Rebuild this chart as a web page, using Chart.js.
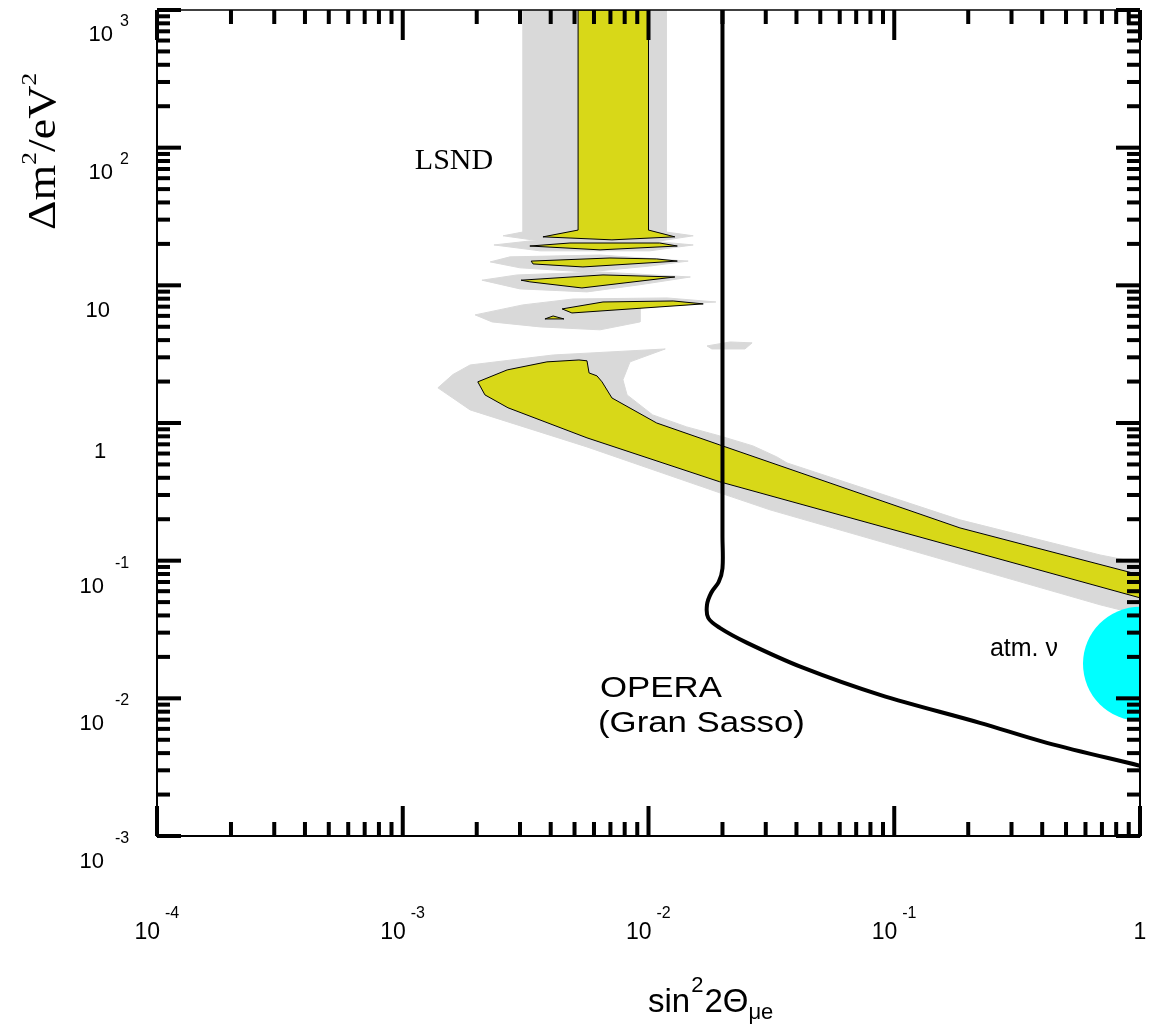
<!DOCTYPE html>
<html lang="en">
<head>
<meta charset="UTF-8">
<title>LSND / OPERA sensitivity</title>
<script src="https://cdn.jsdelivr.net/npm/chart.js"></script>
<style>
    body { margin: 0; background: #ffffff; }
    .chart-box { width: 1155px; height: 1028px; position: relative; }
</style>
</head>
<body>
<div class="chart-box"><canvas id="oscChart"></canvas></div>
<script>
// decades on the two log axes
const xDecades = [-4, -3, -2, -1, 0];
const yDecades = [-3, -2, -1, 0, 1, 2, 3];

// LSND outer (grey) allowed region, [sin^2 2theta, dm^2 / eV^2]
const graySpike = [[0.00308, 1000], [0.0118, 1000], [0.0118, 24.4], [0.0152, 22.9], [0.0111, 21.0],
    [0.00362, 21.0], [0.00256, 22.9], [0.00308, 24.4]];
const grayBand2 = [[0.00235, 19.65], [0.00329, 21.0], [0.0101, 21.0], [0.0152, 19.65], [0.0101, 17.8], [0.00362, 17.8]];
const grayBand3 = [[0.00227, 14.8], [0.00273, 16.1], [0.00635, 16.6], [0.0145, 15.0], [0.0101, 13.8], [0.00562, 12.5], [0.0030, 13.4]];
const grayBand4 = [[0.0021, 10.9], [0.00292, 11.9], [0.00635, 12.5], [0.0148, 11.5], [0.00923, 10.1], [0.00562, 8.96], [0.0030, 9.42]];
const grayBand5 = [[0.00197, 6.10], [0.00308, 7.21], [0.00493, 7.96], [0.0119, 8.10], [0.0188, 7.57], [0.00923, 6.97],
    [0.00923, 5.42], [0.00635, 4.75], [0.00362, 4.99], [0.00231, 5.42]];
const graySliver = [[0.0173, 3.63], [0.0215, 3.88], [0.0264, 3.82], [0.0247, 3.45], [0.0181, 3.45]];
const grayMain = [[0.00139, 1.80], [0.00160, 2.25], [0.00188, 2.64], [0.00409, 3.12], [0.0117, 3.45], [0.00841, 2.78],
    [0.00787, 2.06], [0.00818, 1.60], [0.0104, 1.145], [0.0143, 0.937], [0.0195, 0.806], [0.0266, 0.682],
    [0.0333, 0.567], [0.0366, 0.513], [0.185, 0.198], [0.688, 0.110], [1, 0.0964], [1, 0.0404],
    [0.688, 0.0478], [0.0312, 0.234], [0.0195, 0.311], [0.00562, 0.67], [0.00188, 1.245]];

// LSND inner (yellow) allowed region
const yellowSpike = [[0.00517, 1000], [0.01, 1000], [0.01, 25.2], [0.0128, 22.5], [0.0071, 21.4], [0.00372, 22.5], [0.00517, 25.2]];
const yellowIsl2 = [[0.00329, 19.3], [0.00479, 20.3], [0.0111, 20.3], [0.0131, 19.3], [0.00635, 18.1]];
const yellowIsl3 = [[0.00333, 15.0], [0.00697, 15.8], [0.0108, 15.55], [0.0131, 15.0], [0.00541, 13.6], [0.00339, 14.3]];
const yellowIsl4 = [[0.00303, 10.9], [0.00653, 11.9], [0.0128, 11.5], [0.00536, 9.57], [0.00329, 10.6]];
const yellowIsl5 = [[0.00445, 6.74], [0.00653, 7.57], [0.0126, 7.70], [0.0167, 7.33], [0.00488, 6.30]];
const yellowIsl6 = [[0.00379, 5.70], [0.00409, 5.99], [0.00453, 5.70]];
const yellowMain = [[0.00202, 1.99], [0.00266, 2.43], [0.00386, 2.78], [0.00521, 2.87], [0.00562, 2.83], [0.00573, 2.31],
    [0.00617, 2.20], [0.00647, 1.99], [0.0071, 1.52], [0.0108, 1.00], [0.0195, 0.693], [0.185, 0.173],
    [1, 0.0788], [1, 0.0537], [0.0195, 0.374], [0.00562, 0.78], [0.00268, 1.29], [0.00216, 1.60]];

// OPERA sensitivity curve
const operaX = [0.02, 0.02, 0.02, 0.0193, 0.0180, 0.0173, 0.0175, 0.0195, 0.0252, 0.0425, 0.0875, 0.223, 0.418, 1];
const operaY = [1000, 0.15, 0.088, 0.0700, 0.0585, 0.0478, 0.0384, 0.0325, 0.0253, 0.0167, 0.0106, 0.00664, 0.00475, 0.00324];

// atmospheric neutrino region centre
const atmX = [1];
const atmY = [0.0178];

const GRAY = '#d9d9d9';
const YELLOW = '#d8d818';
const SANS = '"Liberation Sans", Arial, sans-serif';
const SERIF = '"Liberation Serif", "Times New Roman", serif';

function poly(points, color, edge, order) {
    const pts = points.map(p => ({x: p[0], y: p[1]}));
    pts.push({x: points[0][0], y: points[0][1]});
    return {
        data: pts,
        showLine: true,
        fill: 'shape',
        backgroundColor: color,
        borderColor: edge || color,
        borderWidth: 1,
        pointRadius: 0,
        tension: 0,
        order: order,
        clip: 0
    };
}

const datasets = [
    {
        data: operaX.map((v, i) => ({x: v, y: operaY[i]})),
        showLine: true,
        borderColor: '#000',
        borderWidth: 4,
        pointRadius: 0,
        tension: 0.35,
        fill: false,
        order: 1,
        clip: 0
    },
    {
        data: atmX.map((v, i) => ({x: v, y: atmY[i]})),
        pointRadius: 57,
        backgroundColor: '#00ffff',
        borderColor: '#00ffff',
        borderWidth: 0,
        order: 2,
        clip: 0
    }
];
[yellowSpike, yellowIsl2, yellowIsl3, yellowIsl4, yellowIsl5, yellowIsl6, yellowMain].forEach(p => {
    datasets.push(poly(p, YELLOW, '#000', 3));
});
[graySpike, grayBand2, grayBand3, grayBand4, grayBand5, graySliver, grayMain].forEach(p => {
    datasets.push(poly(p, GRAY, null, 4));
});

function txt(ctx, s, x, y, font, align, sx) {
    ctx.save();
    ctx.font = font;
    ctx.textAlign = align || 'left';
    ctx.textBaseline = 'alphabetic';
    ctx.translate(x, y);
    ctx.scale(sx || 1, 1);
    ctx.fillText(s, 0, 0);
    ctx.restore();
}

const framePlugin = {
    id: 'frame',
    afterDatasetsDraw(chart) {
        const {ctx, chartArea: a, scales: {x, y}} = chart;
        ctx.save();
        ctx.fillStyle = '#000';
        ctx.strokeStyle = '#000';

        // box
        ctx.lineWidth = 2;
        ctx.beginPath();
        ctx.moveTo(a.left, a.top);
        ctx.lineTo(a.left, a.bottom);
        ctx.lineTo(a.right, a.bottom);
        ctx.lineTo(a.right, a.top);
        ctx.stroke();
        ctx.lineWidth = 1.5;
        ctx.beginPath();
        ctx.moveTo(a.left, a.top);
        ctx.lineTo(a.right, a.top);
        ctx.stroke();

        // ticks pointing inwards, all four sides
        xDecades.forEach(d => {
            for (let m = 1; m <= 9; m++) {
                const v = m * Math.pow(10, d);
                if (v > 1.0001) break;
                const px = x.getPixelForValue(v);
                const len = m === 1 ? 30 : 14;
                ctx.fillRect(px - 2, a.bottom - len, 4, len);
                ctx.fillRect(px - 2, a.top, 4, len);
            }
        });
        yDecades.forEach(d => {
            for (let m = 1; m <= 9; m++) {
                const v = m * Math.pow(10, d);
                if (v > 1000.1) break;
                const py = y.getPixelForValue(v);
                const len = m === 1 ? 24 : 13;
                ctx.fillRect(a.left, py - 2, len, 4);
                ctx.fillRect(a.right - len, py - 2, len, 4);
            }
        });

        // x tick labels
        xDecades.forEach(d => {
            const px = x.getPixelForValue(Math.pow(10, d));
            if (d === 0) {
                txt(ctx, '1', px, a.bottom + 103, '23px ' + SANS, 'center');
            } else {
                txt(ctx, '10', px + 3, a.bottom + 103, '23px ' + SANS, 'right');
                txt(ctx, String(d), px + 8, a.bottom + 82, '16px ' + SANS, 'left');
            }
        });

        // y tick labels
        yDecades.forEach(d => {
            const py = y.getPixelForValue(Math.pow(10, d));
            if (d === 0) {
                txt(ctx, '1', a.left - 57, py + 35, '22px ' + SANS, 'center');
            } else if (d === 1) {
                txt(ctx, '10', a.left - 47, py + 32, '22px ' + SANS, 'right');
            } else if (d > 1) {
                txt(ctx, '10', a.left - 44, py + 31, '22px ' + SANS, 'right');
                txt(ctx, String(d), a.left - 37, py + 16, '16px ' + SANS, 'left');
            } else {
                txt(ctx, '10', a.left - 53, py + 32, '22px ' + SANS, 'right');
                txt(ctx, String(d), a.left - 42, py + 7, '16px ' + SANS, 'left');
            }
        });

        // region labels
        txt(ctx, 'LSND', x.getPixelForValue(0.00112), y.getPixelForValue(70), '30px ' + SERIF, 'left');
        txt(ctx, 'OPERA', x.getPixelForValue(0.00635), y.getPixelForValue(0.01025), '29px ' + SANS, 'left', 1.2);
        txt(ctx, '(Gran Sasso)', x.getPixelForValue(0.00623), y.getPixelForValue(0.00571), '29px ' + SANS, 'left', 1.2);
        txt(ctx, 'atm. \u03bd', x.getPixelForValue(0.245), y.getPixelForValue(0.0203), '25px ' + SANS, 'left');

        // x axis title: sin^2 2Theta_mu e
        let cx = 648;
        const base = 1012;
        txt(ctx, 'sin', cx, base, '33px ' + SANS);
        ctx.font = '33px ' + SANS;
        cx += ctx.measureText('sin').width + 1;
        txt(ctx, '2', cx, base - 20, '22px ' + SANS);
        ctx.font = '22px ' + SANS;
        cx += ctx.measureText('2').width + 1;
        txt(ctx, '2\u0398', cx, base, '33px ' + SANS);
        ctx.font = '33px ' + SANS;
        cx += ctx.measureText('2\u0398').width;
        txt(ctx, '\u03bce', cx, base + 7, '22px ' + SANS);

        // y axis title: dm^2 / eV^2, rotated
        ctx.save();
        ctx.translate(55, 230);
        ctx.rotate(-Math.PI / 2);
        ctx.scale(1.15, 1);
        ctx.textBaseline = 'alphabetic';
        let tx = 0;
        const parts = [['\u0394m', 40, 0], ['2', 22, -19], ['/eV', 40, 0], ['2', 22, -19]];
        parts.forEach(p => {
            ctx.font = p[1] + 'px ' + SERIF;
            ctx.fillText(p[0], tx, p[2]);
            tx += ctx.measureText(p[0]).width;
        });
        ctx.restore();

        ctx.restore();
    }
};

new Chart(document.getElementById('oscChart').getContext('2d'), {
    type: 'scatter',
    data: { datasets: datasets },
    options: {
        responsive: true,
        maintainAspectRatio: false,
        animation: false,
        events: [],
        layout: { autoPadding: false, padding: { left: 157, right: 15, top: 10, bottom: 192 } },
        plugins: { legend: { display: false }, tooltip: { enabled: false } },
        scales: {
            x: { type: 'logarithmic', min: 1e-4, max: 1, display: false },
            y: { type: 'logarithmic', min: 1e-3, max: 1e3, display: false }
        }
    },
    plugins: [framePlugin]
});
</script>
</body>
</html>
